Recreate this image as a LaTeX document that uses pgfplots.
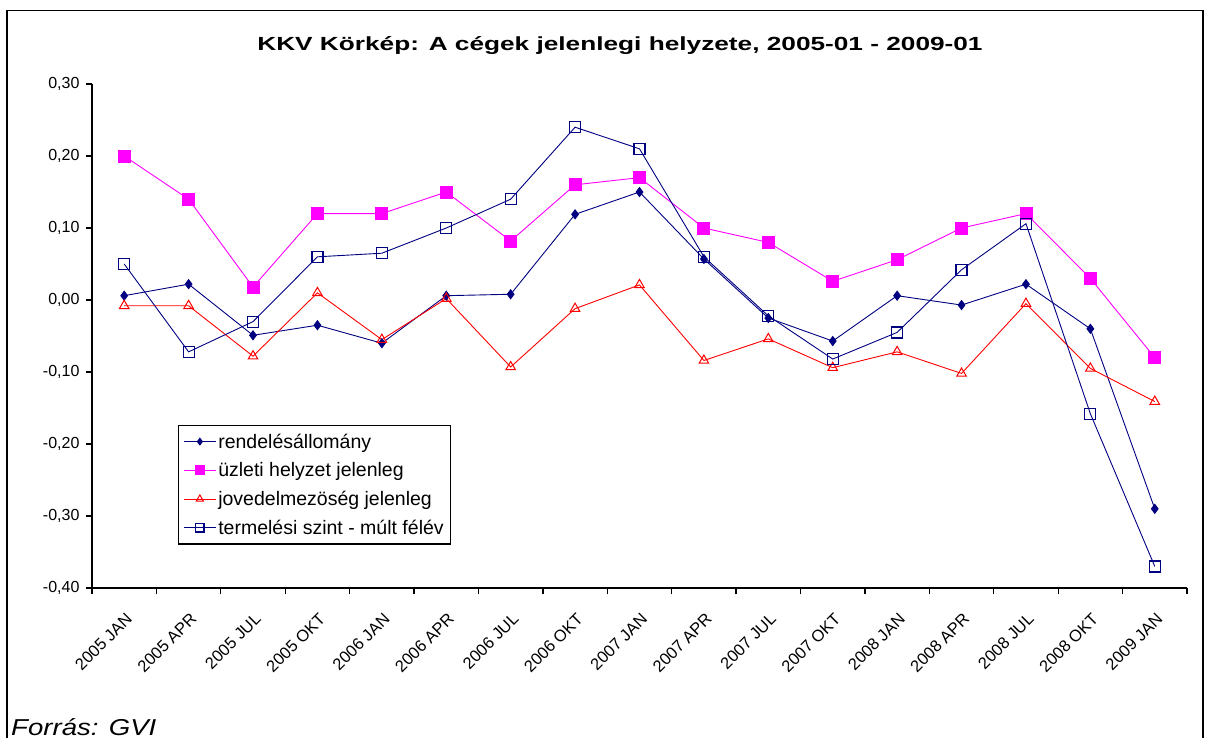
\documentclass[border=0pt]{standalone}
\usepackage{fontspec}
\setmainfont{Liberation Sans}
\usepackage{graphicx}
\usepackage{pgfplots}
\pgfplotsset{compat=1.18}
\definecolor{navy}{RGB}{0,0,128}
\definecolor{mag}{RGB}{255,0,255}
\definecolor{rd}{RGB}{255,0,0}
\begin{document}
\begin{tikzpicture}
\useasboundingbox (0pt,0pt) rectangle (1207pt,-737pt);
\draw[line width=1.2pt] (7pt,-740pt) -- (7pt,-10.5pt) -- (1203pt,-10.5pt) -- (1203pt,-740pt);
\node[font=\fontsize{19}{23}\selectfont\bfseries, anchor=base] at (620pt,-50pt) {\scalebox{1.38}[1]{KKV Körkép: A cégek jelenlegi helyzete, 2005-01 - 2009-01}};
\node[font=\fontsize{23}{27}\selectfont\itshape, anchor=base west, inner sep=0pt] at (11pt,-735pt) {\scalebox{1.2}[1]{Forrás: GVI}};
\begin{axis}[
  at={(92pt,-588pt)}, anchor=south west,
  scale only axis, width=1095pt, height=504pt,
  xmin=-0.5, xmax=16.5, ymin=-0.4, ymax=0.3,
  axis x line*=bottom, axis y line*=left,
  axis line style={line width=1.4pt, -},
  tick align=outside,
  xtick={0,...,16},
  xticklabels={2005 JAN,2005 APR,2005 JUL,2005 OKT,2006 JAN,2006 APR,2006 JUL,2006 OKT,2007 JAN,2007 APR,2007 JUL,2007 OKT,2008 JAN,2008 APR,2008 JUL,2008 OKT,2009 JAN},
  major x tick style={draw=none},
  minor xtick={-0.5,0.5,...,16.5},
  minor tick length=6pt,
  minor x tick style={line width=1.3pt, black},
  x tick label style={font=\fontsize{16.5}{18}\selectfont, inner sep=0pt, xshift=5pt, yshift=-22pt, rotate=45, anchor=east},
  ytick={-0.4,-0.3,-0.2,-0.1,0,0.1,0.2,0.3},
  major tick length=6pt,
  major y tick style={line width=1.3pt, black},
  y tick label style={font=\fontsize{16}{18}\selectfont, xshift=-3pt},
  yticklabel style={/pgf/number format/.cd, fixed, fixed zerofill, precision=2, use comma, assume math mode=true},
  scaled y ticks=false,
  legend style={at={(0.0785,0.323)}, anchor=north west, draw=black, line width=1.4pt,
    font=\fontsize{19.5}{22}\selectfont, row sep=9pt, inner xsep=5pt, inner ysep=6pt,
    cells={anchor=west, line width=0.9pt}},
  legend cell align=left,
  legend image code/.code={%
    \draw[mark repeat=2, mark phase=2, /tikz/every mark/.append style={scale=0.75}]
      plot coordinates {(0pt,0pt) (16pt,0pt) (32pt,0pt)};},
  every axis plot/.append style={line width=0.9pt},
]
\addplot[navy, mark=diamond*, mark size=4.5pt] coordinates {
(0,0.006)(1,0.022)(2,-0.049)(3,-0.035)(4,-0.060)(5,0.006)(6,0.008)(7,0.119)(8,0.150)(9,0.057)(10,-0.025)(11,-0.057)(12,0.006)(13,-0.007)(14,0.022)(15,-0.040)(16,-0.290)};
\addlegendentry{rendelésállomány}
\addplot[mag, mark=square*, mark size=6pt] coordinates {
(0,0.200)(1,0.140)(2,0.018)(3,0.120)(4,0.120)(5,0.150)(6,0.082)(7,0.160)(8,0.170)(9,0.100)(10,0.080)(11,0.026)(12,0.056)(13,0.100)(14,0.120)(15,0.030)(16,-0.080)};
\addlegendentry{üzleti helyzet jelenleg}
\addplot[rd, mark=triangle, mark size=5.5pt, mark options={line width=1pt}] coordinates {
(0,-0.008)(1,-0.008)(2,-0.078)(3,0.010)(4,-0.055)(5,0.002)(6,-0.093)(7,-0.012)(8,0.021)(9,-0.084)(10,-0.054)(11,-0.094)(12,-0.072)(13,-0.102)(14,-0.005)(15,-0.095)(16,-0.141)};
\addlegendentry{jovedelmezöség jelenleg}
\addplot[navy, mark=square, mark size=5.5pt, mark options={line width=1.2pt}] coordinates {
(0,0.050)(1,-0.072)(2,-0.030)(3,0.060)(4,0.065)(5,0.100)(6,0.140)(7,0.240)(8,0.210)(9,0.060)(10,-0.022)(11,-0.082)(12,-0.045)(13,0.042)(14,0.106)(15,-0.158)(16,-0.370)};
\addlegendentry{termelési szint - múlt félév}
\end{axis}
\end{tikzpicture}
\end{document}
